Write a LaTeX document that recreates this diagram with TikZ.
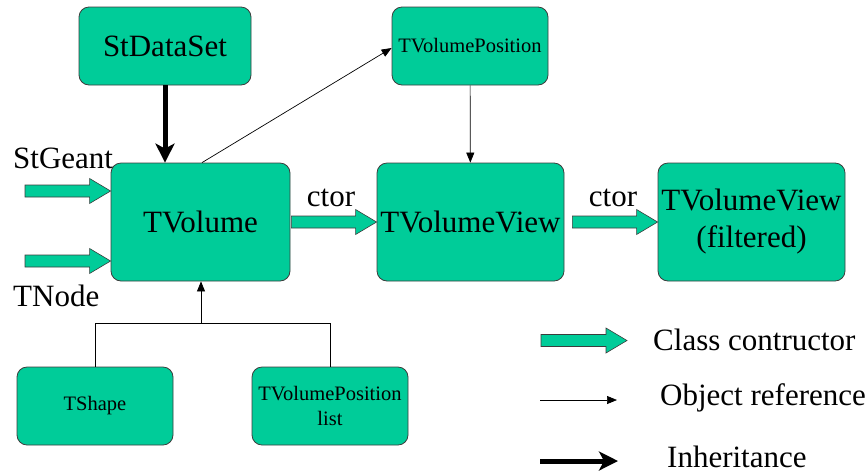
\documentclass[tikz,border=0pt]{standalone}
\usepackage{fontspec}
\setmainfont{Liberation Serif}
\usepackage{tikz}
\usetikzlibrary{arrows.meta, positioning, calc}
\definecolor{classgreen}{RGB}{0, 204, 153}
\definecolor{edge}{RGB}{60, 60, 60}
\tikzstyle{classbox} = [rectangle, rounded corners=10pt, draw=edge, line width=0.8pt, fill=classgreen, inner sep=0pt, align=center, text centered]
\tikzstyle{big} = [font=\fontsize{31}{37}\selectfont]
\tikzstyle{small} = [font=\fontsize{20.5}{25}\selectfont]
\tikzstyle{ref} = [line width=0.7pt, -{Triangle[length=10pt, width=8pt]}]
\tikzstyle{inherit} = [line width=5pt, -{Stealth[length=19pt, width=19pt, inset=5pt]}]
\tikzstyle{ctorshape} = [fill=classgreen, draw=edge, line width=0.6pt]
% fat constructor arrow, horizontal, from #1 to the tip #2
\newcommand{\ctorarrow}[2]{%
  \draw[ctorshape] let \p1=#1, \p2=#2 in
    (\x1,\y2+6pt) -- (\x2-21pt,\y2+6pt) -- (\x2-21pt,\y2+12.5pt) -- (\x2,\y2)
    -- (\x2-21pt,\y2-12.5pt) -- (\x2-21pt,\y2-6pt) -- (\x1,\y2-6pt) -- cycle;}
\begin{document}
\begin{tikzpicture}[x=1pt, y=-1pt]
    \useasboundingbox (0,0) rectangle (866,475);

    % Classes
    \node[classbox, big, minimum width=172pt, minimum height=78pt] (sds) at (165,46) {StDataSet};
    \node[classbox, small, minimum width=156pt, minimum height=78pt] (tvp) at (470,46) {TVolumePosition};
    \node[classbox, big, minimum width=179pt, minimum height=118pt] (tv) at (200.5,222) {TVolume};
    \node[classbox, big, minimum width=187pt, minimum height=118pt] (tvv) at (470.5,222) {TVolumeView};
    \node[classbox, big, minimum width=187pt, minimum height=118pt] (tvf) at (751.5,222) {TVolumeView\\(filtered)};
    \node[classbox, small, minimum width=156pt, minimum height=78pt] (ts) at (95,406) {TShape};
    \node[classbox, small, minimum width=156pt, minimum height=78pt] (tvl) at (330,406) {TVolumePosition\\list};

    % Inputs
    \coordinate (geant) at (25,191);
    \coordinate (tnode) at (25,261);
    \node[big, anchor=west, inner sep=0pt] (geantlabel) at (13,158) {StGeant};
    \node[big, anchor=west, inner sep=0pt] (tnodelabel) at (13,296) {TNode};
    \ctorarrow{(geant)}{(tv.west |- geant)}
    \ctorarrow{(tnode)}{(tv.west |- tnode)}

    % Constructors
    \ctorarrow{([xshift=1pt]tv.east)}{(tvv.west)}
    \ctorarrow{([xshift=8pt]tvv.east)}{(tvf.west)}
    \node[big, inner sep=0pt] (ctora) at (331,198) {ctor};
    \node[big, inner sep=0pt] (ctorb) at (613,198) {ctor};

    % References
    \draw[inherit] (sds.south) -- (sds.south |- tv.north);
    \draw[ref] ([xshift=1.5pt]tv.north) -- ([yshift=-2pt]tvp.west);
    \draw[ref] (tvp) -- (tvv);
    \coordinate (junc) at ($(tv.south)+(0.5,42)$);
    \draw[line width=0.7pt] (ts.north) |- (junc) -| (tvl.north);
    \draw[ref] (junc) -- (junc |- tv.south);

    % Legend
    \coordinate (lgc) at (541,340.5);
    \coordinate (lgr) at (540,400);
    \coordinate (lgi) at (540,461);
    \ctorarrow{(lgc)}{($(lgc)+(86,0)$)}
    \draw[ref] (lgr) -- ++(77,0);
    \draw[inherit] (lgi) -- ++(78,0);
    \node[big, anchor=west, inner sep=0pt] (lgctext) at (653,340) {Class contructor};
    \node[big, anchor=west, inner sep=0pt] (lgrtext) at (660,398) {Object reference};
    \node[big, anchor=west, inner sep=0pt] (lgitext) at (667,457) {Inheritance};
\end{tikzpicture}
\end{document}
